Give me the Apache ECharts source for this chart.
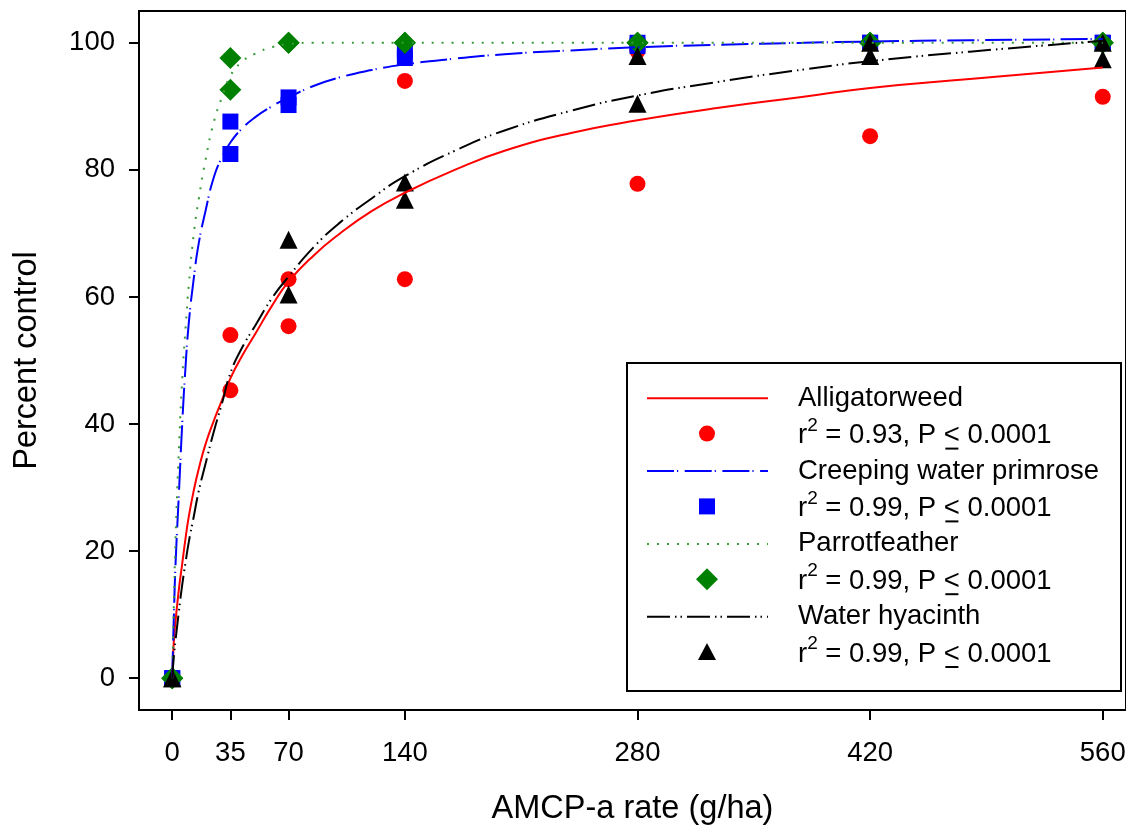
<!DOCTYPE html>
<html>
<head>
<meta charset="utf-8">
<script src="https://cdn.jsdelivr.net/npm/echarts@6/dist/echarts.min.js"></script>
<style>
  html, body { margin: 0; padding: 0; background: #fff; }
  #chart { width: 1126px; height: 825px; }
</style>
</head>
<body>
<div id="chart"></div>
<script>
// Application rates (g/ha), two replicates per rate
const rates = [0, 0, 35, 35, 70, 70, 140, 140, 280, 280, 420, 420, 560, 560];

// Observed percent control per species
const alligatorweed = [0, 0, 54.0, 45.3, 62.8, 55.4, 94.0, 62.8, 98.7, 77.8, 100, 85.3, 100, 91.5];
const primrose      = [0, 0, 87.6, 82.5, 91.4, 90.2, 97.6, 98.8, 100, 99.5, 100, 100, 100, 100];
const parrotfeather = [0, 0, 97.6, 92.6, 100, 100, 100, 100, 100, 100, 100, 100, 100, 100];
const hyacinth      = [0, 0, null, null, 69.0, 60.4, 78.0, 75.3, 97.9, 90.4, 100, 97.9, 100, 97.4];

// Fitted response curves, read at these rates
const fitRates      = [0, 1, 2, 4, 6, 8, 10, 13, 16, 20, 25, 30, 35, 42, 50, 60, 70, 85, 100, 120, 140, 170, 200, 240, 280, 330, 380, 420, 480, 560];
const alligatorFit  = [0, 6, 9, 14, 18, 22, 25.5, 29.6, 33, 36.8, 40.5, 43.8, 47.2, 50.7, 54.2, 58.6, 62.4, 66.5, 69.8, 73.5, 76.4, 80, 83, 85.8, 87.8, 89.8, 91.5, 92.9, 94.3, 96.1];
const primroseFit   = [0, 10, 18, 29, 40, 49, 56, 63, 68.5, 73.5, 78.8, 82, 84.3, 86.5, 88.3, 90, 91.4, 93.2, 94.5, 95.7, 96.6, 97.5, 98.2, 98.8, 99.3, 99.7, 100, 100.2, 100.4, 100.6];
const parrotFit     = [0, 12, 22, 36, 47, 55, 62, 70, 75.5, 81.5, 87.5, 91.5, 94.8, 97, 98.3, 99.3, 99.8, 100, 100, 100, 100, 100, 100, 100, 100, 100, 100, 100, 100, 100];
const hyacinthFit   = [0, 3.5, 6, 10.5, 14.7, 18.2, 21.5, 25.5, 29.5, 33.7, 38.8, 43.3, 48, 52, 55.5, 59.8, 63.2, 67.8, 71.5, 75.5, 79, 83, 86.2, 89.3, 91.7, 93.9, 95.8, 97.1, 98.6, 100.3];

// Axis tick labels
const xTicks = [0, 35, 70, 140, 280, 420, 560];
const yTicks = [0, 20, 40, 60, 80, 100];

const FONT = 'Liberation Sans';

function pairs(xs, ys) {
  const out = [];
  for (let i = 0; i < xs.length; i++) {
    if (ys[i] !== null && ys[i] !== undefined) out.push([xs[i], ys[i]]);
  }
  return out;
}

const species = [
  { name: 'Alligatorweed', stat: '0.93', color: '#ff0000', obs: alligatorweed, fit: alligatorFit,
    dash: 'solid', lineColor: '#ff0000', symbol: 'circle', size: 16 },
  { name: 'Creeping water primrose', stat: '0.99', color: '#0000ff', obs: primrose, fit: primroseFit,
    dash: [27, 3, 1.2, 6.5], lineColor: '#0000ff', symbol: 'rect', size: 16 },
  { name: 'Parrotfeather', stat: '0.99', color: '#008000', obs: parrotfeather, fit: parrotFit,
    dash: [2, 8], lineColor: '#3a9a3a', symbol: 'diamond', size: 22 },
  { name: 'Water hyacinth', stat: '0.99', color: '#000000', obs: hyacinth, fit: hyacinthFit,
    dash: [23, 5, 1.5, 4, 1.5, 5], lineColor: '#000000', symbol: 'triangle', size: 18 }
];

const series = [];
species.forEach(function (s) {
  series.push({
    type: 'line',
    name: s.name + ' fit',
    data: pairs(fitRates, s.fit),
    showSymbol: false,
    smooth: 0.5,
    silent: true,
    lineStyle: { color: s.lineColor, width: 2, type: s.dash }
  });
  series.push({
    type: 'scatter',
    name: s.name,
    data: pairs(rates, s.obs),
    symbol: s.symbol,
    symbolSize: s.size,
    itemStyle: { color: s.color, opacity: 1 }
  });
});

// Legend box drawn with graphic elements
const ctx = document.createElement('canvas').getContext('2d');
function textWidth(str, size) {
  ctx.font = size + 'px "' + FONT + '"';
  return ctx.measureText(str).width;
}

const LEG = { x: 627, y: 363, w: 494, h: 328 };
const lineX0 = 647, lineX1 = 768, symX = 707, textX = 798;
const rowStep = 72.8, firstRow = 398.3, statOffset = 37.3;
const legendFont = 27.5, supFont = 19;

const legendChildren = [{
  type: 'rect',
  shape: { x: LEG.x, y: LEG.y, width: LEG.w, height: LEG.h },
  style: { fill: '#fff', stroke: '#000', lineWidth: 2 }
}];

species.forEach(function (s, i) {
  const yA = firstRow + i * rowStep;
  const yB = yA + statOffset;
  legendChildren.push({
    type: 'line',
    shape: { x1: lineX0, y1: yA, x2: lineX1, y2: yA },
    style: { stroke: s.lineColor, lineWidth: 2, lineDash: s.dash === 'solid' ? null : s.dash }
  });
  // marker sample
  const my = yB - 2;
  if (s.symbol === 'circle') {
    legendChildren.push({ type: 'circle', shape: { cx: symX, cy: my, r: 8 }, style: { fill: s.color } });
  } else if (s.symbol === 'rect') {
    legendChildren.push({ type: 'rect', shape: { x: symX - 8, y: my - 8, width: 16, height: 16 }, style: { fill: s.color } });
  } else if (s.symbol === 'diamond') {
    legendChildren.push({ type: 'polygon', shape: { points: [[symX, my - 11], [symX + 11, my], [symX, my + 11], [symX - 11, my]] }, style: { fill: s.color } });
  } else {
    legendChildren.push({ type: 'polygon', shape: { points: [[symX, my - 9], [symX + 9, my + 8], [symX - 9, my + 8]] }, style: { fill: s.color } });
  }
  // species name
  legendChildren.push({
    type: 'text', x: textX, y: yA,
    style: { text: s.name, font: legendFont + 'px "' + FONT + '"', fill: '#000', verticalAlign: 'middle', align: 'left' }
  });
  // r² = ..., P ≤ 0.0001
  let cx = textX;
  legendChildren.push({ type: 'text', x: cx, y: yB,
    style: { text: 'r', font: legendFont + 'px "' + FONT + '"', fill: '#000', verticalAlign: 'middle' } });
  cx += textWidth('r', legendFont);
  legendChildren.push({ type: 'text', x: cx, y: yB - 10,
    style: { text: '2', font: supFont + 'px "' + FONT + '"', fill: '#000', verticalAlign: 'middle' } });
  cx += textWidth('2', supFont);
  const mid = ' = ' + s.stat + ', P ';
  legendChildren.push({ type: 'text', x: cx, y: yB,
    style: { text: mid, font: legendFont + 'px "' + FONT + '"', fill: '#000', verticalAlign: 'middle' } });
  cx += textWidth(mid, legendFont);
  const ltW = textWidth('<', legendFont);
  legendChildren.push({ type: 'text', x: cx, y: yB,
    style: { text: '<', font: legendFont + 'px "' + FONT + '"', fill: '#000', verticalAlign: 'middle' } });
  legendChildren.push({ type: 'line',
    shape: { x1: cx + 1.5, y1: yB + 13, x2: cx + ltW - 1.5, y2: yB + 13 },
    style: { stroke: '#000', lineWidth: 2 } });
  cx += ltW;
  legendChildren.push({ type: 'text', x: cx, y: yB,
    style: { text: ' 0.0001', font: legendFont + 'px "' + FONT + '"', fill: '#000', verticalAlign: 'middle' } });
});

const chart = echarts.init(document.getElementById('chart'), null, { renderer: 'canvas' });
chart.setOption({
  animation: false,
  backgroundColor: '#fff',
  textStyle: { fontFamily: FONT },
  grid: {
    left: 139, top: 11, right: 0, bottom: 115,
    outerBoundsMode: 'none', containLabel: false,
    show: true, borderColor: '#000', borderWidth: 2, backgroundColor: 'transparent'
  },
  xAxis: {
    type: 'value', min: -20, max: 574,
    axisLine: { onZero: false, lineStyle: { color: '#000', width: 2 } },
    axisTick: { customValues: xTicks, length: 10, lineStyle: { color: '#000', width: 2 } },
    axisLabel: { customValues: xTicks, fontSize: 27.5, color: '#000', margin: 29, fontFamily: FONT },
    splitLine: { show: false },
    name: 'AMCP-a rate (g/ha)', nameLocation: 'middle', nameGap: 83,
    nameTextStyle: { fontSize: 32.5, color: '#000', fontFamily: FONT }
  },
  yAxis: {
    type: 'value', min: -5, max: 105,
    axisLine: { onZero: false, lineStyle: { color: '#000', width: 2 } },
    axisTick: { customValues: yTicks, length: 10, lineStyle: { color: '#000', width: 2 } },
    axisLabel: { customValues: yTicks, fontSize: 27.5, color: '#000', margin: 24, fontFamily: FONT },
    splitLine: { show: false },
    name: 'Percent control', nameLocation: 'middle', nameGap: 95,
    nameTextStyle: { fontSize: 32.5, color: '#000', fontFamily: FONT }
  },
  graphic: [{ type: 'group', z: 100, children: legendChildren }],
  series: series
});
</script>
</body>
</html>
